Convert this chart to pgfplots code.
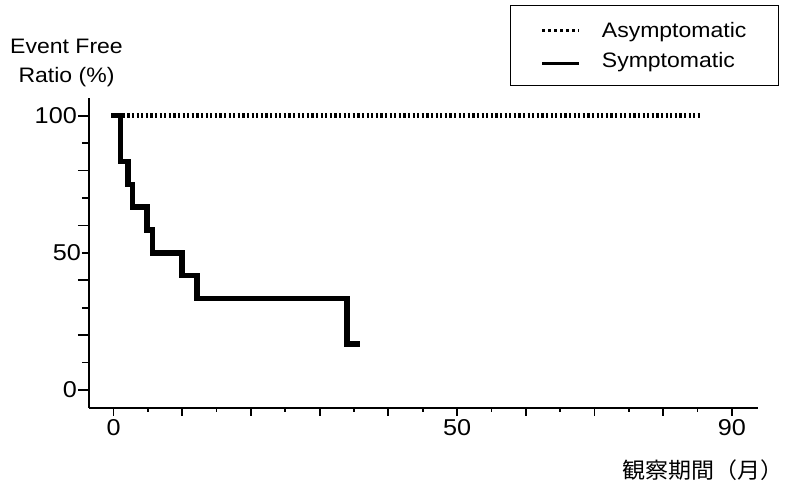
\documentclass[border=0pt]{standalone}
\usepackage{fontspec}
\setmainfont{Liberation Sans}[FakeStretch=1.1]
\newfontfamily\cjk{Noto Sans CJK JP}[FakeStretch=1.05]
\usepackage{pgfplots}
\pgfplotsset{compat=1.18}
\begin{document}
\begin{tikzpicture}
\path (-89bp,-72bp) rectangle (696bp,408bp);
\begin{axis}[
  at={(0,0)}, anchor=south west, scale only axis,
  width=669bp, height=310bp,
  xmin=-3.57, xmax=93.8, ymin=-6.56, ymax=106.45,
  axis lines*=left, axis line style={-, line width=2bp},
  tick align=outside,
  every tick/.style={black, line width=1.8bp},
  xtick={0,10,...,90}, xticklabels={0,,,,,50,,,,90},
  minor xtick={5,15,...,85},
  ytick={0,20,...,100}, yticklabels={0,,,,,100},
  minor ytick={10,30,70,90},
  extra y ticks={50}, extra y tick labels={50},
  extra y tick style={major tick length=7bp},
  major tick length=11bp, minor tick length=7bp,
  xtick style={/pgfplots/major tick length=8bp,/pgfplots/minor tick length=4bp},
  /pgf/number format/assume math mode=true,
  tick label style={font=\fontsize{23}{25}\selectfont},
  yticklabel style={inner sep=1bp},
  xticklabel style={inner sep=0.5bp},
  xlabel={\cjk\fontsize{22}{23}\selectfont 観察期間（月）},
  xlabel style={at={(axis description cs:1.039,-0.2)}, anchor=east, inner sep=0pt},
  ylabel={Event Free\\Ratio (\%)},
  ylabel style={at={(axis description cs:-0.0336,1.113)}, anchor=center, rotate=-90, align=center, font=\fontsize{21}{29}\selectfont, inner sep=0pt},
  legend cell align=left,
  legend style={at={(rel axis cs:1.0314,1.3)}, anchor=north east, draw=black, line width=1.2bp,
    font=\fontsize{21}{24}\selectfont, inner xsep=30bp, inner ysep=15bp, row sep=9bp, column sep=19bp},
  legend image code/.code={\draw[#1] (0bp,0bp) -- (37bp,0bp);},
]
\addplot[black, line width=4.5bp, dash pattern=on 2.3bp off 2.3bp,
  legend image post style={line width=3bp, dash pattern=on 3bp off 3bp}]
  coordinates {(0,100) (85.3,100)};
\addlegendentry{Asymptomatic}
\addplot[black, line width=5.5bp, const plot, line cap=rect, line join=miter,
  legend image post style={line width=3.5bp, line cap=butt, yshift=-3bp}]
  coordinates {(0,100) (1,83.3) (2.1,75) (2.75,66.7) (4.9,58.3) (5.65,50) (10,41.7) (12.15,33.3) (34,16.7) (35.5,16.7)};
\addlegendentry{Symptomatic}
\end{axis}
\end{tikzpicture}
\end{document}
